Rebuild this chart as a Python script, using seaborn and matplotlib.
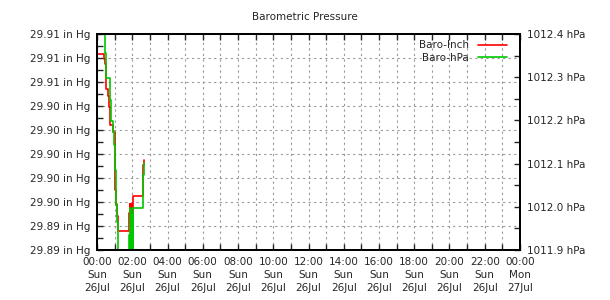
import pandas as pd
import matplotlib
matplotlib.use("Agg")
import matplotlib.pyplot as plt
import matplotlib.dates as mdates
from matplotlib.ticker import MultipleLocator, FormatStrFormatter
import seaborn as sns

# ----------------------------------
# Data (minutes after midnight, 26 Jul)
# ----------------------------------

day_start = pd.Timestamp("2020-07-26 00:00")
day_end = pd.Timestamp("2020-07-27 00:00")

inch_minutes = [2, 24, 27, 31, 32, 38, 41, 43, 44, 54, 60, 61, 62, 65,
                68, 71, 110, 112, 114, 116, 119, 123, 157, 158, 160]
inch_values = [29.9083, 29.9079, 29.9075, 29.9068, 29.9054, 29.9048,
               29.9039, 29.9035, 29.9024, 29.9018, 29.9003, 29.8978,
               29.8970, 29.8958, 29.8948, 29.8936, 29.8951, 29.8958,
               29.8945, 29.8958, 29.8947, 29.8965, 29.8978, 29.8991,
               29.8995]

hpa_minutes = [24, 26, 27, 29, 31, 44, 46, 54, 59, 61, 62, 64, 65, 68,
               70, 73, 110, 112, 113, 116, 119, 122, 124, 157, 158, 160]
hpa_values = [1012.400, 1012.372, 1012.356, 1012.326, 1012.298, 1012.247,
              1012.199, 1012.173, 1012.143, 1012.125, 1012.085, 1012.039,
              1012.004, 1011.965, 1011.923, 1011.872, 1011.935, 1011.872,
              1011.997, 1011.872, 1011.981, 1011.872, 1011.997, 1012.039,
              1012.074, 1012.101]

inch_df = pd.DataFrame({
    "time": day_start + pd.to_timedelta(inch_minutes, unit="m"),
    "value": inch_values
})

hpa_df = pd.DataFrame({
    "time": day_start + pd.to_timedelta(hpa_minutes, unit="m"),
    "value": hpa_values
})

# ----------------------------------
# Style
# ----------------------------------

sns.set_style("white")
plt.rcParams["font.family"] = ["DejaVu Sans"]
plt.rcParams["font.size"] = 7

fig = plt.figure(figsize=(6.1, 3.0), dpi=100)
ax = fig.add_axes([97 / 610, 50 / 300, 423 / 610, 216 / 300])
ax2 = ax.twinx()

# ----------------------------------
# Lines
# ----------------------------------

sns.lineplot(data=inch_df, x="time", y="value", ax=ax,
             color="#ff0000", linewidth=1.2, drawstyle="steps-post",
             legend=False)

sns.lineplot(data=hpa_df, x="time", y="value", ax=ax2,
             color="#00c800", linewidth=1.2, drawstyle="steps-post",
             legend=False)

# ----------------------------------
# Axes
# ----------------------------------

ax.set_xlim(day_start, day_end)
ax.set_ylim(29.892, 29.910)
ax2.set_ylim(1011.9, 1012.4)

ax.xaxis.set_major_locator(mdates.HourLocator(byhour=range(0, 24, 2)))
ax.xaxis.set_minor_locator(mdates.HourLocator())
ax.xaxis.set_major_formatter(mdates.DateFormatter("%H:%M\n%a\n%d%b"))

ax.yaxis.set_major_locator(MultipleLocator(0.002))
ax.yaxis.set_minor_locator(MultipleLocator(0.001))
ax.yaxis.set_major_formatter(FormatStrFormatter("%.2f in Hg"))

ax2.yaxis.set_major_locator(MultipleLocator(0.1))
ax2.yaxis.set_minor_locator(MultipleLocator(0.05))
ax2.yaxis.set_major_formatter(FormatStrFormatter("%.1f hPa"))

ax.set_xlabel("")
ax.set_ylabel("")
ax2.set_ylabel("")

for a in (ax, ax2):
    for s in a.spines.values():
        s.set_visible(True)
        s.set_color("black")
        s.set_linewidth(1.4)

ax.tick_params(axis="x", which="both", direction="in", top=True,
               bottom=True, length=4, width=1, labelsize=7.5, pad=5)
ax.tick_params(axis="y", which="both", direction="in", left=True,
               length=4, width=1, labelsize=7.5, pad=5)
ax2.tick_params(axis="y", which="both", direction="in", right=True,
                length=4, width=1, labelsize=7.5, pad=5)

for lbl in ax.get_xticklabels():
    lbl.set_multialignment("center")
    lbl.set_linespacing(1.4)

ax.grid(True, axis="x", which="both", color="#999999",
        linestyle=(0, (2, 3)), linewidth=0.8)
ax.grid(True, axis="y", which="major", color="#999999",
        linestyle=(0, (2, 3)), linewidth=0.8)

# ----------------------------------
# Legend and title
# ----------------------------------

handles = [ax.lines[0], ax2.lines[0]]
ax2.legend(handles, ["Baro-Inch", "Baro-hPa"], loc="upper right",
           frameon=False, markerfirst=False, fontsize=7.5,
           handlelength=2.8, handletextpad=0.9, labelspacing=0.25,
           borderaxespad=0.2, bbox_to_anchor=(0.985, 1.0))

fig.text(0.5, 1 - 17 / 300, "Barometric Pressure", ha="center",
         va="center", fontsize=7.5)

fig.savefig("out.png", dpi=100)
plt.close(fig)
